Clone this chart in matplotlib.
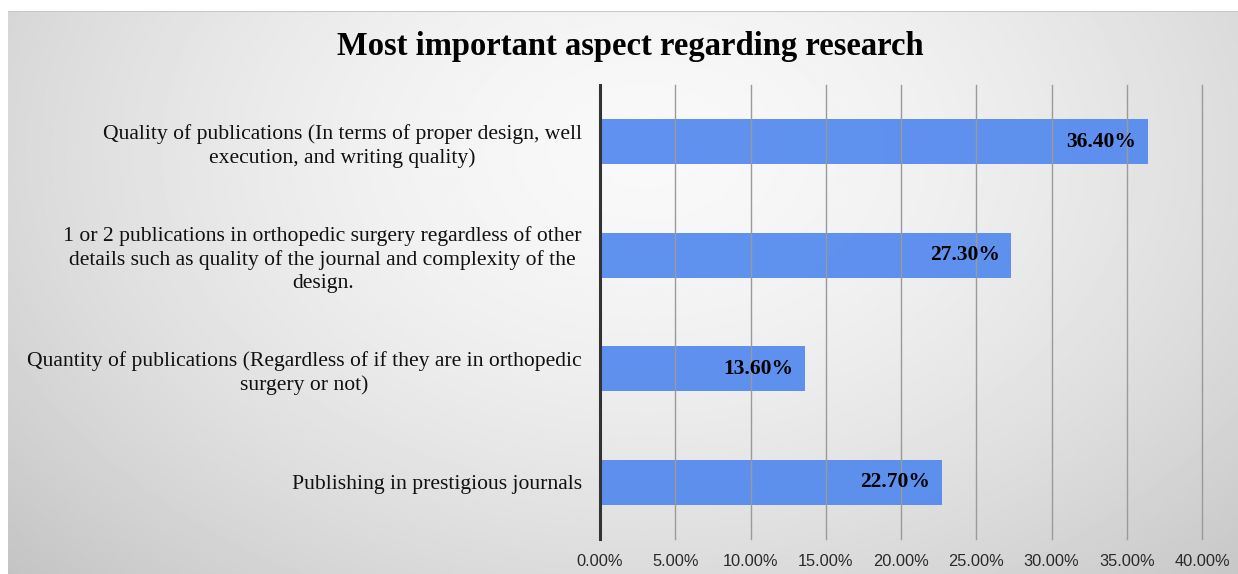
import matplotlib.pyplot as plt
import numpy as np

categories = [
    'Quality of publications (In terms of proper design, well\nexecution, and writing quality)',
    '1 or 2 publications in orthopedic surgery regardless of other\ndetails such as quality of the journal and complexity of the\ndesign.',
    'Quantity of publications (Regardless of if they are in orthopedic\nsurgery or not)',
    'Publishing in prestigious journals',
]
values = [36.4, 27.3, 13.6, 22.7]
xticks = [0, 5, 10, 15, 20, 25, 30, 35, 40]

W, H = 1238, 574
fig = plt.figure(figsize=(W / 100, H / 100), dpi=100)
fig.patch.set_facecolor('white')

# fondo con degradado radial (gris en los bordes, claro en el centro)
bg = fig.add_axes([8 / W, 0, 1 - 8 / W, 1 - 11 / H], zorder=0)
yy, xx = np.mgrid[0:1:300j, 0:1:600j]
r = np.sqrt(((xx - 0.52) / 0.72) ** 2 + ((yy - 0.25) / 1.1) ** 2)
shade = np.clip(0.975 - 0.21 * r ** 1.6, 0.76, 0.975)
bg.imshow(shade, cmap='gray', vmin=0, vmax=1, aspect='auto', extent=[0, 1, 1, 0])
bg.axis('off')
bg.plot([0, 1], [0.0, 0.0], color='#c8c8c8', lw=1.5)
bg.set_xlim(0, 1)
bg.set_ylim(1, 0)

ax = fig.add_axes([600 / W, 1 - 539 / H, (1202 - 600) / W, (539 - 85) / H], zorder=1)
ax.patch.set_alpha(0)

y = np.arange(len(categories))
ax.barh(y, values, height=0.395, color='#4f86ef', alpha=0.9, zorder=2)
for xi in xticks[1:]:
    ax.axvline(xi, color='#9a9a9a', lw=1, zorder=3, clip_on=False)

for yi, v in zip(y, values):
    ax.text(v - 0.75, yi, '%.2f%%' % v, ha='right', va='center',
            family='Liberation Serif', fontweight='bold', fontsize=15.5, color='black', zorder=4)

ax.set_ylim(len(categories) - 0.5, -0.5)
ax.set_xlim(0, 40)
ax.set_yticks(y)
ax.set_yticklabels(categories, family='Liberation Serif', fontsize=15.6, ha='right',
                   multialignment='center', linespacing=1.27, color='#111111')
ax.tick_params(axis='y', length=0, pad=13)
ax.set_xticks(xticks)
ax.set_xticklabels(['%.2f%%' % t for t in xticks], family='Liberation Sans', fontsize=11.8,
                   color='#2a2a2a')
ax.tick_params(axis='x', length=0, pad=11)

for s in ['top', 'right', 'bottom']:
    ax.spines[s].set_visible(False)
ax.spines['left'].set_color('#333333')
ax.spines['left'].set_linewidth(2.2)
ax.spines['left'].set_zorder(5)

fig.text(630 / W, 1 - 55 / H, 'Most important aspect regarding research', ha='center',
         va='baseline', family='Liberation Serif', fontweight='bold', fontsize=23.5)

fig.savefig('out.png', dpi=100)
